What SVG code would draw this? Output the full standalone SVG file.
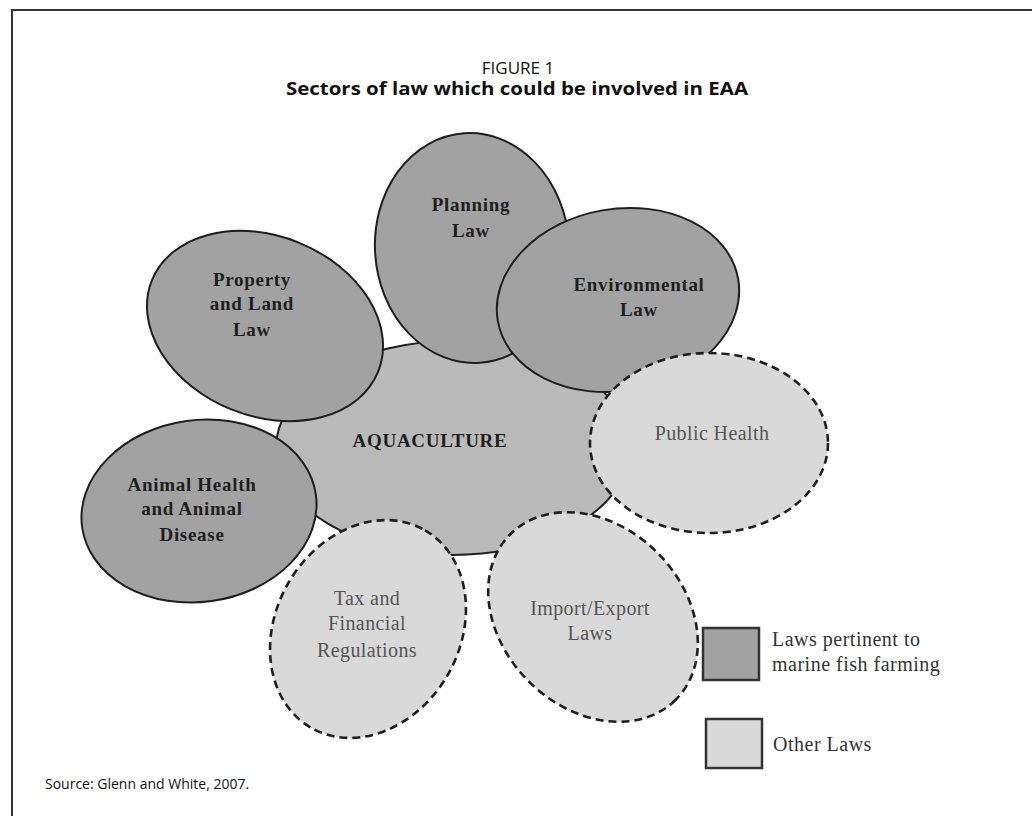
<svg xmlns="http://www.w3.org/2000/svg" width="1032" height="816" viewBox="0 0 1032 816">
<style>
.dark{fill:#a2a2a2;stroke:#1e1e1e;stroke-width:2}
.mid{fill:#bababa;stroke:#1e1e1e;stroke-width:2}
.light{fill:#d9d9d9;stroke:#1e1e1e;stroke-width:2.6;stroke-dasharray:8 5}
.bt{font-family:"Liberation Serif",serif;font-weight:bold;font-size:19px;fill:#1e1e1e;text-anchor:middle;letter-spacing:0.7px}
.lt{font-family:"Liberation Serif",serif;font-size:20px;fill:#555;text-anchor:middle;letter-spacing:0.4px}
.lg{font-family:"Liberation Serif",serif;font-size:20px;fill:#333;letter-spacing:0.5px}
.ttl{font-family:"Open Sans","Noto Sans",sans-serif;font-size:17px;fill:#111;text-anchor:middle}
</style>
<rect x="0" y="0" width="1032" height="816" fill="#fff"/>
<path d="M12,816 V10 H1032" fill="none" stroke="#333" stroke-width="2"/>
<text class="ttl" x="518" y="74">FIGURE 1</text>
<text class="ttl" x="517" y="95" font-weight="bold" textLength="462" lengthAdjust="spacingAndGlyphs">Sectors of law which could be involved in EAA</text>
<g id="aquaculture">
<ellipse class="mid" cx="453" cy="448" rx="177" ry="107"/>
<text class="bt" x="430" y="447" font-size="20">AQUACULTURE</text>
</g>
<g id="property">
<ellipse class="dark" cx="265" cy="326" rx="122" ry="90" transform="rotate(22 265 326)"/>
<text class="bt" x="252" y="286">Property</text>
<text class="bt" x="252" y="310">and Land</text>
<text class="bt" x="252" y="336">Law</text>
</g>
<g id="planning">
<ellipse class="dark" cx="472" cy="248" rx="97" ry="115" transform="rotate(-4 472 248)"/>
<text class="bt" x="471" y="211">Planning</text>
<text class="bt" x="471" y="237">Law</text>
</g>
<g id="environmental">
<ellipse class="dark" cx="618" cy="300" rx="122" ry="91" transform="rotate(-10 618 300)"/>
<text class="bt" x="639" y="291">Environmental</text>
<text class="bt" x="639" y="316">Law</text>
</g>
<g id="animal">
<ellipse class="dark" cx="199" cy="511" rx="118" ry="91" transform="rotate(-8 199 511)"/>
<text class="bt" x="192" y="491">Animal Health</text>
<text class="bt" x="192" y="515">and Animal</text>
<text class="bt" x="192" y="541">Disease</text>
</g>
<g id="public-health">
<ellipse class="light" cx="709" cy="443" rx="119" ry="90"/>
<text class="lt" x="712" y="440">Public Health</text>
</g>
<g id="tax">
<ellipse class="light" cx="368" cy="629" rx="114" ry="92" transform="rotate(-60 368 629)"/>
<text class="lt" x="367" y="605">Tax and</text>
<text class="lt" x="367" y="630">Financial</text>
<text class="lt" x="367" y="657">Regulations</text>
</g>
<g id="import-export">
<ellipse class="light" cx="593" cy="617" rx="117" ry="91" transform="rotate(45 593 617)"/>
<text class="lt" x="590" y="615">Import/Export</text>
<text class="lt" x="590" y="640">Laws</text>
</g>
<g id="connectors"></g>
<g id="legend">
<rect x="703" y="628" width="56" height="52" fill="#a2a2a2" stroke="#333" stroke-width="2.5"/>
<text class="lg" x="772" y="646">Laws pertinent to</text>
<text class="lg" x="772" y="671">marine fish farming</text>
<rect x="706" y="719" width="56" height="49" fill="#d9d9d9" stroke="#333" stroke-width="2.5"/>
<text class="lg" x="773" y="751">Other Laws</text>
</g>
<text x="45" y="789" font-family="'Open Sans','Noto Sans',sans-serif" font-size="14" fill="#111">Source: Glenn and White, 2007.</text>
</svg>
